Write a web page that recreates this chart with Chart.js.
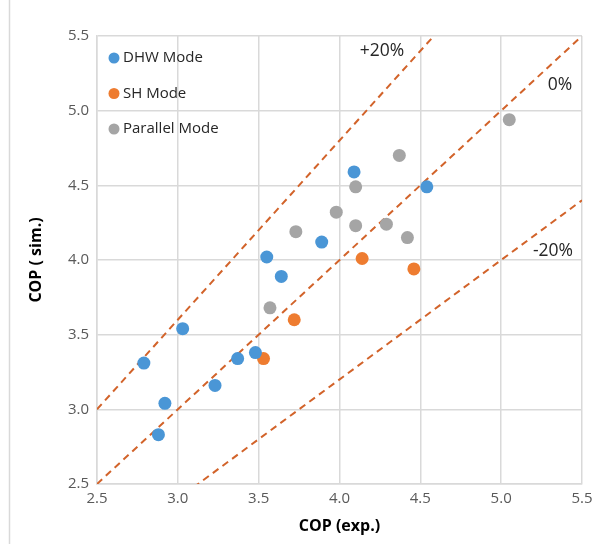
<!DOCTYPE html>
<html>
<head>
<meta charset="utf-8">
<script src="https://cdn.jsdelivr.net/npm/chart.js@4"></script>
<style>
  html, body { margin: 0; padding: 0; background: #fff; }
  #wrap { width: 594px; height: 544px; position: relative; }
</style>
</head>
<body>
<div id="wrap"><canvas id="copChart"></canvas></div>
<script>
// COP (exp.) / COP (sim.) pairs
const dhwExp = [2.79, 2.92, 2.88, 3.03, 3.23, 3.37, 3.48, 3.55, 3.64, 3.89, 4.09, 4.54];
const dhwSim = [3.31, 3.04, 2.83, 3.54, 3.16, 3.34, 3.38, 4.02, 3.89, 4.12, 4.59, 4.49];

const shExp = [3.53, 3.72, 4.14, 4.46];
const shSim = [3.34, 3.60, 4.01, 3.94];

const parExp = [3.57, 3.73, 3.98, 4.10, 4.10, 4.29, 4.37, 4.42, 5.05];
const parSim = [3.68, 4.19, 4.32, 4.23, 4.49, 4.24, 4.70, 4.15, 4.94];

const seriesNames = ['DHW Mode', 'SH Mode', 'Parallel Mode'];
const refLabels = ['+20%', '0%', '-20%'];
const refRatios = [1.2, 1.0, 0.8];
const axisTicks = [2.5, 3.0, 3.5, 4.0, 4.5, 5.0, 5.5];

const colors = ['#4A96D6', '#EE7C30', '#A5A5A5'];
const refColor = '#D2632A';
const gridColor = '#D9D9D9';
const fontFamily = '"Open Sans", "Liberation Sans", sans-serif';

function pairs(xs, ys) {
    return xs.map((x, i) => ({ x: x, y: ys[i] }));
}

document.addEventListener('DOMContentLoaded', function() {
    const ctx = document.getElementById('copChart');
    const xMin = axisTicks[0];
    const xMax = axisTicks[axisTicks.length - 1];

    // reference lines y = r * x
    const refSets = refRatios.map(r => ({
        type: 'line',
        data: [{ x: xMin, y: r * xMin }, { x: xMax, y: r * xMax }],
        borderColor: refColor,
        borderWidth: 2,
        borderDash: [7, 5],
        pointRadius: 0,
        fill: false,
        order: 2
    }));

    const pointSets = [
        pairs(dhwExp, dhwSim),
        pairs(shExp, shSim),
        pairs(parExp, parSim)
    ].map((d, i) => ({
        type: 'scatter',
        label: seriesNames[i],
        data: d,
        backgroundColor: colors[i],
        borderWidth: 0,
        pointRadius: 6.5,
        order: 1
    }));

    // legend in the upper-left corner and the % labels next to the lines
    const overlay = {
        id: 'overlay',
        afterDraw(chart) {
            const c = chart.ctx;
            const a = chart.chartArea;
            c.save();
            c.strokeStyle = gridColor;
            c.lineWidth = 1.5;
            c.beginPath();
            c.moveTo(9.5, 0);
            c.lineTo(9.5, chart.height);
            c.stroke();

            c.font = '15px ' + fontFamily;
            c.textBaseline = 'middle';
            c.textAlign = 'left';
            seriesNames.forEach((name, i) => {
                const y = a.top + 22 + i * 35.5;
                c.fillStyle = colors[i];
                c.beginPath();
                c.arc(a.left + 17, y, 5.5, 0, Math.PI * 2);
                c.fill();
                c.fillStyle = '#262626';
                c.fillText(name, a.left + 26, y);
            });

            c.font = '17.5px ' + fontFamily;
            c.textAlign = 'center';
            c.fillStyle = '#262626';
            const labelPos = [[285, 15], [463, 49], [456, 215]];
            refLabels.forEach((t, i) => {
                c.fillText(t, a.left + labelPos[i][0], a.top + labelPos[i][1]);
            });
            c.restore();
        }
    };

    new Chart(ctx, {
        data: { datasets: refSets.concat(pointSets) },
        options: {
            responsive: true,
            maintainAspectRatio: false,
            animation: false,
            layout: { padding: { top: 36, right: 12, bottom: 0, left: 0 } },
            plugins: {
                legend: { display: false },
                tooltip: { enabled: false }
            },
            scales: {
                x: {
                    type: 'linear',
                    min: xMin,
                    max: xMax,
                    afterBuildTicks: s => { s.ticks = axisTicks.map(v => ({ value: v })); },
                    afterFit: s => {
                        s.height = 60;
                        s.paddingRight = 0;
                        s.paddingLeft = 0;
                    },
                    grid: { color: gridColor, lineWidth: 1.5, drawTicks: false },
                    border: { color: gridColor, width: 1.5 },
                    ticks: {
                        padding: 6,
                        color: '#595959',
                        font: { family: fontFamily, size: 15 },
                        callback: v => v.toFixed(1)
                    },
                    title: {
                        display: true,
                        text: 'COP (exp.)',
                        color: '#000',
                        font: { family: fontFamily, size: 16, weight: 'bold' },
                        padding: { top: 0, bottom: 8 }
                    }
                },
                y: {
                    type: 'linear',
                    min: xMin,
                    max: xMax,
                    afterBuildTicks: s => { s.ticks = axisTicks.map(v => ({ value: v })); },
                    afterFit: s => { s.width = 97; },
                    grid: { color: gridColor, lineWidth: 1.5, drawTicks: false },
                    border: { color: gridColor, width: 1.5 },
                    ticks: {
                        padding: 8,
                        color: '#595959',
                        font: { family: fontFamily, size: 15 },
                        callback: v => v.toFixed(1)
                    },
                    title: {
                        display: true,
                        text: 'COP ( sim.)',
                        color: '#000',
                        font: { family: fontFamily, size: 16, weight: 'bold' },
                        padding: { top: 27, bottom: 0 }
                    }
                }
            }
        },
        plugins: [overlay]
    });
});
</script>
</body>
</html>
